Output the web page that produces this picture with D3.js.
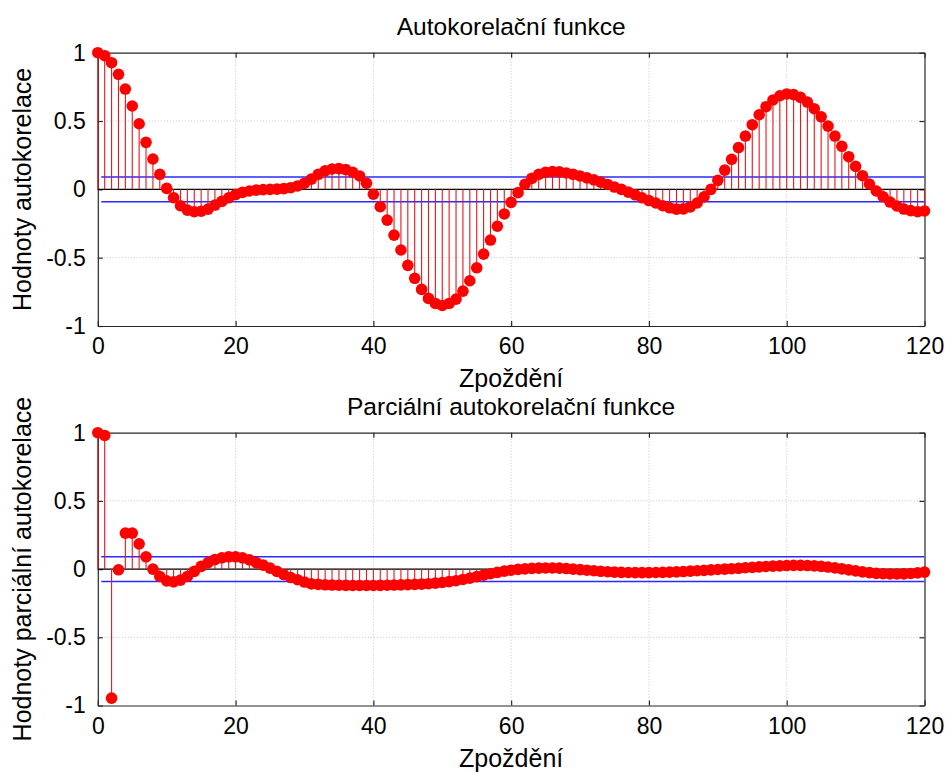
<!DOCTYPE html>
<html>
<head>
<meta charset="utf-8">
<script src="https://cdn.jsdelivr.net/npm/d3@7"></script>
<style>
  html, body { margin: 0; padding: 0; background: #fff; }
  svg { display: block; }
  text { font-family: "Liberation Sans", Arial, sans-serif; fill: #000; }
</style>
</head>
<body>
<svg id="chart" width="952" height="773"></svg>
<script>
// Lags 0..120
const lags = d3.range(0, 121);

// Sample autocorrelation
const acfValues = [
  1.000, 0.978, 0.927, 0.842, 0.734, 0.610, 0.480, 0.344, 0.222, 0.110,
  0.007, -0.061, -0.120, -0.152, -0.164, -0.160, -0.145, -0.115, -0.088, -0.062,
  -0.038, -0.022, -0.012, -0.006, -0.002, 0.000, 0.002, 0.005, 0.012, 0.025,
  0.045, 0.075, 0.110, 0.135, 0.149, 0.152, 0.145, 0.125, 0.098, 0.045,
  -0.036, -0.127, -0.225, -0.335, -0.444, -0.556, -0.651, -0.732, -0.798, -0.835,
  -0.850, -0.835, -0.803, -0.745, -0.669, -0.574, -0.474, -0.371, -0.270, -0.180,
  -0.095, -0.024, 0.037, 0.080, 0.110, 0.124, 0.130, 0.128, 0.120, 0.110,
  0.098, 0.084, 0.070, 0.053, 0.036, 0.017, 0.000, -0.020, -0.040, -0.062,
  -0.082, -0.100, -0.120, -0.135, -0.145, -0.143, -0.128, -0.100, -0.055, 0.000,
  0.066, 0.141, 0.220, 0.305, 0.390, 0.473, 0.546, 0.605, 0.654, 0.685,
  0.698, 0.693, 0.673, 0.639, 0.590, 0.531, 0.463, 0.390, 0.315, 0.239,
  0.168, 0.100, 0.039, -0.012, -0.054, -0.093, -0.122, -0.144, -0.156, -0.164,
  -0.158
];

// Sample partial autocorrelation
const pacfValues = [
  1.000, 0.980, -0.946, -0.005, 0.264, 0.264, 0.185, 0.090, 0.000, -0.054,
  -0.086, -0.093, -0.081, -0.054, -0.017, 0.020, 0.048, 0.070, 0.083, 0.090,
  0.090, 0.083, 0.068, 0.048, 0.029, 0.007, -0.017, -0.040, -0.062, -0.078,
  -0.095, -0.108, -0.112, -0.115, -0.117, -0.118, -0.119, -0.120, -0.120, -0.120,
  -0.120, -0.119, -0.118, -0.117, -0.116, -0.114, -0.112, -0.110, -0.107, -0.103,
  -0.098, -0.092, -0.085, -0.076, -0.066, -0.055, -0.044, -0.034, -0.024, -0.015,
  -0.008, -0.002, 0.002, 0.005, 0.007, 0.008, 0.008, 0.007, 0.004, 0.000,
  -0.004, -0.008, -0.012, -0.016, -0.019, -0.022, -0.024, -0.025, -0.026, -0.026,
  -0.026, -0.025, -0.024, -0.022, -0.020, -0.018, -0.015, -0.012, -0.009, -0.006,
  -0.003, 0.000, 0.003, 0.006, 0.010, 0.013, 0.016, 0.019, 0.022, 0.024,
  0.026, 0.027, 0.027, 0.026, 0.024, 0.020, 0.015, 0.009, 0.002, -0.006,
  -0.013, -0.020, -0.026, -0.031, -0.034, -0.036, -0.036, -0.035, -0.032, -0.028,
  -0.022
];

// Approximate 95% confidence bound (±2/sqrt(N))
const confBound = 0.0905;

const xTicks = [0, 20, 40, 60, 80, 100, 120];
const yTicks = [-1, -0.5, 0, 0.5, 1];
const yTickLabels = ["-1", "-0.5", "0", "0.5", "1"];

const panels = [
  { title: "Autokorelační funkce", ylabel: "Hodnoty autokorelace", values: acfValues, top: 52.7, bottom: 326 },
  { title: "Parciální autokorelační funkce", ylabel: "Hodnoty parciální autokorelace", values: pacfValues, top: 432.7, bottom: 705.5 }
];
const xlabel = "Zpoždění";

const left = 97.8, right = 924.5;
const svg = d3.select("#chart");

panels.forEach(p => {
  const x = d3.scaleLinear().domain([0, 120]).range([left, right]);
  const y = d3.scaleLinear().domain([-1, 1]).range([p.bottom, p.top]);
  const g = svg.append("g");

  // dotted grid
  g.selectAll("line.gx").data(xTicks.slice(1, -1)).join("line")
    .attr("x1", d => x(d)).attr("x2", d => x(d))
    .attr("y1", p.top).attr("y2", p.bottom)
    .attr("stroke", "#b8b8b8").attr("stroke-width", 0.8).attr("stroke-dasharray", "1,2");
  g.selectAll("line.gy").data(yTicks.slice(1, -1)).join("line")
    .attr("x1", left).attr("x2", right)
    .attr("y1", d => y(d)).attr("y2", d => y(d))
    .attr("stroke", "#b8b8b8").attr("stroke-width", 0.8).attr("stroke-dasharray", "1,2");

  // axes (ticks inward on all sides)
  const fmtY = d => yTickLabels[yTicks.indexOf(d)];
  const axB = g.append("g").attr("transform", `translate(0,${p.bottom})`)
    .call(d3.axisBottom(x).tickValues(xTicks).tickSizeInner(-5).tickSizeOuter(0).tickPadding(12));
  const axT = g.append("g").attr("transform", `translate(0,${p.top})`)
    .call(d3.axisTop(x).tickValues(xTicks).tickSizeInner(-5).tickSizeOuter(0).tickFormat(""));
  const axL = g.append("g").attr("transform", `translate(${left},0)`)
    .call(d3.axisLeft(y).tickValues(yTicks).tickSizeInner(-5).tickSizeOuter(0).tickPadding(12).tickFormat(fmtY));
  const axR = g.append("g").attr("transform", `translate(${right},0)`)
    .call(d3.axisRight(y).tickValues(yTicks).tickSizeInner(-5).tickSizeOuter(0).tickFormat(""));
  [axB, axT, axL, axR].forEach(a => {
    a.select(".domain").attr("stroke", "#262626").attr("stroke-width", 1.2);
    a.selectAll(".tick line").attr("stroke", "#262626").attr("stroke-width", 1.2);
    a.selectAll("text").style("font-size", "23px").attr("fill", "#000");
  });
  axB.selectAll("text").attr("dy", "0.71em");

  // zero baseline
  g.append("line")
    .attr("x1", x(0)).attr("x2", x(120))
    .attr("y1", y(0)).attr("y2", y(0))
    .attr("stroke", "#000").attr("stroke-width", 1.3);

  // confidence bounds
  [confBound, -confBound].forEach(b => {
    g.append("line")
      .attr("x1", x(0.5)).attr("x2", x(120))
      .attr("y1", y(b)).attr("y2", y(b))
      .attr("stroke", "#2a2aff").attr("stroke-width", 1.4);
  });

  const pts = lags.map((l, i) => ({ lag: l, v: p.values[i] }));

  // stems
  g.selectAll("line.stem").data(pts).join("line")
    .attr("class", "stem")
    .attr("x1", d => x(d.lag)).attr("x2", d => x(d.lag))
    .attr("y1", y(0)).attr("y2", d => y(d.v))
    .attr("stroke", "#e8161b").attr("stroke-width", 1.1);

  // markers
  g.selectAll("circle").data(pts).join("circle")
    .attr("cx", d => x(d.lag)).attr("cy", d => y(d.v))
    .attr("r", 5.8).attr("fill", "#ff0000");

  // titles and labels
  svg.append("text")
    .attr("x", (left + right) / 2).attr("y", p.top - 18)
    .attr("text-anchor", "middle").style("font-size", "24.5px")
    .text(p.title);
  svg.append("text")
    .attr("x", (left + right) / 2).attr("y", p.bottom + 61)
    .attr("text-anchor", "middle").style("font-size", "25px")
    .text(xlabel);
  svg.append("text")
    .attr("transform", `translate(31,${(p.top + p.bottom) / 2}) rotate(-90)`)
    .attr("text-anchor", "middle").style("font-size", "25px")
    .text(p.ylabel);
});
</script>
</body>
</html>
